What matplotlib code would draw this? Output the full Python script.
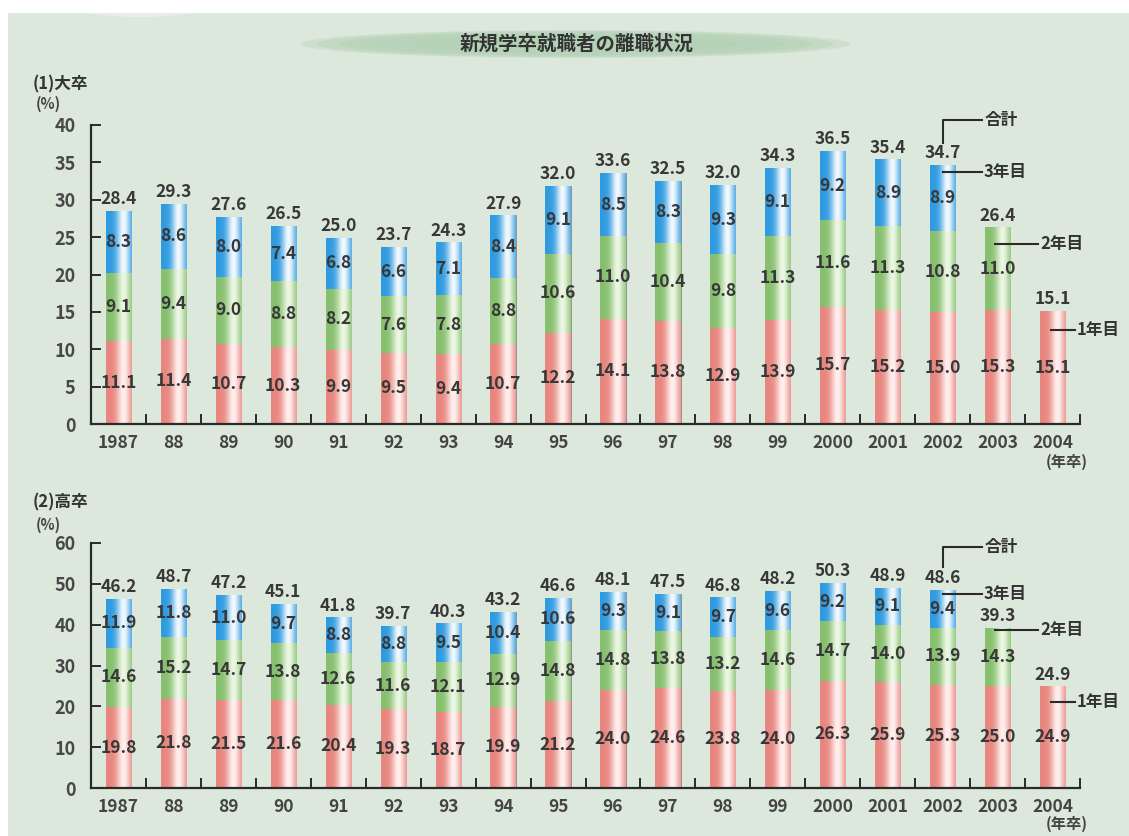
import numpy as np
import matplotlib
matplotlib.use("Agg")
import matplotlib.pyplot as plt
from matplotlib.patches import Ellipse, Rectangle
from matplotlib.colors import to_rgb
import matplotlib.transforms as mtransforms

plt.rcParams['font.family'] = ['Noto Sans CJK JP', 'DejaVu Sans']

# ---- data ----
years = ['1987', '88', '89', '90', '91', '92', '93', '94', '95', '96', '97',
         '98', '99', '2000', '2001', '2002', '2003', '2004']

univ_y1 = [11.1, 11.4, 10.7, 10.3, 9.9, 9.5, 9.4, 10.7, 12.2, 14.1, 13.8, 12.9,
           13.9, 15.7, 15.2, 15.0, 15.3, 15.1]
univ_y2 = [9.1, 9.4, 9.0, 8.8, 8.2, 7.6, 7.8, 8.8, 10.6, 11.0, 10.4, 9.8,
           11.3, 11.6, 11.3, 10.8, 11.0, None]
univ_y3 = [8.3, 8.6, 8.0, 7.4, 6.8, 6.6, 7.1, 8.4, 9.1, 8.5, 8.3, 9.3,
           9.1, 9.2, 8.9, 8.9, None, None]
univ_total = [28.4, 29.3, 27.6, 26.5, 25.0, 23.7, 24.3, 27.9, 32.0, 33.6, 32.5,
              32.0, 34.3, 36.5, 35.4, 34.7, 26.4, 15.1]

high_y1 = [19.8, 21.8, 21.5, 21.6, 20.4, 19.3, 18.7, 19.9, 21.2, 24.0, 24.6, 23.8,
           24.0, 26.3, 25.9, 25.3, 25.0, 24.9]
high_y2 = [14.6, 15.2, 14.7, 13.8, 12.6, 11.6, 12.1, 12.9, 14.8, 14.8, 13.8, 13.2,
           14.6, 14.7, 14.0, 13.9, 14.3, None]
high_y3 = [11.9, 11.8, 11.0, 9.7, 8.8, 8.8, 9.5, 10.4, 10.6, 9.3, 9.1, 9.7,
           9.6, 9.2, 9.1, 9.4, None, None]
high_total = [46.2, 48.7, 47.2, 45.1, 41.8, 39.7, 40.3, 43.2, 46.6, 48.1, 47.5,
              46.8, 48.2, 50.3, 48.9, 48.6, 39.3, 24.9]

series_names = ['1年目', '2年目', '3年目']

# ---- style ----
BG = '#dde8dc'
TXT = '#383838'
SEG_COLORS = [('#e8857e', '#fff0ee'),   # 1st year: salmon
              ('#86bf6e', '#ecf7e4'),   # 2nd year: green
              ('#2e9ae0', '#f2f9fe')]   # 3rd year: blue
NUM_SIZE = 12.5

W, H = 1129, 836
fig = plt.figure(figsize=(W / 100, H / 100), dpi=100)
fig.patch.set_facecolor('white')

# panel background
fig.add_artist(Rectangle((8 / W, 0), 1 - 8 / W, 1 - 13 / H, transform=fig.transFigure,
                         facecolor=BG, edgecolor='none', zorder=-10))
fig.add_artist(Ellipse((140 / W, 1 - 11 / H), 110 / W, 12 / H, transform=fig.transFigure,
                       facecolor='white', edgecolor='none', alpha=0.3, zorder=-9))

# title with a soft green ellipse behind it
for k, a in zip([1.0, 0.94, 0.86, 0.76, 0.6], [0.35, 0.4, 0.45, 0.45, 0.4]):
    fig.add_artist(Ellipse((575 / W, 1 - 44 / H), 550 / W * k, 28 / H * k,
                           transform=fig.transFigure, facecolor='#b3d1b6',
                           edgecolor='none', alpha=a, zorder=-8))
fig.text(577 / W, 1 - 44 / H, '新規学卒就職者の離職状況', ha='center', va='center',
         fontsize=14, fontweight='bold', color='#333333')


def gradient_image(base, light, n=64):
    t = np.linspace(0, 1, n)
    f = np.exp(-((t - 0.68) / 0.26) ** 2)
    b = np.array(to_rgb(base))
    l = np.array(to_rgb(light))
    img = b[None, :] * (1 - f[:, None]) + l[None, :] * f[:, None]
    return img[None, :, :]


def draw_panel(ax, segs, totals, ymax, ystep, notes):
    x = np.arange(len(years))
    ax.set_facecolor('none')
    bottom = np.zeros(len(years))
    width = 0.46
    tops = np.zeros(len(years))
    for s, vals in enumerate(segs):
        v = np.array([np.nan if a is None else a for a in vals])
        mask = ~np.isnan(v)
        bars = ax.bar(x[mask], v[mask], width, bottom=bottom[mask],
                      color=SEG_COLORS[s][0], edgecolor='#8d8d8d', linewidth=0.6,
                      zorder=2, label=series_names[s])
        img = gradient_image(*SEG_COLORS[s])
        for patch in bars.patches:
            x0, y0 = patch.get_x(), patch.get_y()
            im = ax.imshow(img, extent=[x0, x0 + patch.get_width(), y0, y0 + patch.get_height()],
                           aspect='auto', interpolation='bilinear', zorder=2.5)
            im.set_clip_path(patch)
        for xi, vi, bi in zip(x[mask], v[mask], bottom[mask]):
            ax.text(xi, bi + vi / 2, f'{vi:.1f}', ha='center', va='center',
                    fontsize=NUM_SIZE, fontweight='bold', color=TXT, zorder=4)
        bottom[mask] += v[mask]
        tops[mask] = bottom[mask]
    for xi, top, tot in zip(x, tops, totals):
        ax.annotate(f'{tot:.1f}', (xi, top), xytext=(0, 2), textcoords='offset points',
                    ha='center', va='bottom', fontsize=NUM_SIZE, fontweight='bold',
                    color=TXT, zorder=4)

    ax.set_xlim(-0.5, len(years) - 0.5)
    ax.set_ylim(0, ymax)
    for sp in ['top', 'right']:
        ax.spines[sp].set_visible(False)
    for sp in ['left', 'bottom']:
        ax.spines[sp].set_color('#2a2a2a')
        ax.spines[sp].set_linewidth(1.6)
    ax.set_yticks(np.arange(0, ymax + 0.1, ystep))
    ax.tick_params(axis='y', direction='in', length=7, width=1.4, color='#2a2a2a',
                   labelsize=13, labelcolor='#484848', pad=11)
    ax.set_xticks(np.arange(0.5, len(years)), labels=[''] * len(years))
    ax.set_xticks(x, labels=years, minor=True)
    ax.tick_params(axis='x', which='major', direction='in', length=7, width=1.4,
                   color='#2a2a2a')
    ax.tick_params(axis='x', which='minor', length=0, labelsize=12.5,
                   labelcolor='#444444', pad=7)
    for lab in ax.get_xticklabels(minor=True) + ax.get_yticklabels():
        lab.set_fontweight('bold')

    # series callouts on the right
    ln = dict(color='#2a2a2a', lw=1.5, clip_on=False, zorder=5)
    tx = dict(ha='left', va='center', fontsize=12, fontweight='bold',
              color='#333333', clip_on=False)
    (tot_lo, tot_hi), y3, y2, y1 = notes
    ax.plot([15, 15, 15.72], [tot_lo, tot_hi, tot_hi], **ln)
    ax.text(15.77, tot_hi, '合計', **tx)
    ax.plot([15, 15.72], [y3, y3], **ln)
    ax.text(15.75, y3, '3年目', **tx)
    ax.plot([15.95, 16.74], [y2, y2], **ln)
    ax.text(16.77, y2, '2年目', **tx)
    ax.plot([16.97, 17.4], [y1, y1], **ln)
    ax.text(17.43, y1, '1年目', **tx)


ax1 = fig.add_axes([91 / W, 1 - 424 / H, 989 / W, 299 / H])
draw_panel(ax1, [univ_y1, univ_y2, univ_y3], univ_total, 40, 5,
           ((37.6, 40.7), 33.7, 24.1, 12.6))
ax2 = fig.add_axes([91 / W, 1 - 788 / H, 989 / W, 245 / H])
draw_panel(ax2, [high_y1, high_y2, high_y3], high_total, 60, 10,
           ((54.1, 59.0), 47.5, 38.7, 21.1))

for ax, yoff in [(ax1, -38 / 299), (ax2, -36 / 245)]:
    tr = mtransforms.blended_transform_factory(ax.transData, ax.transAxes)
    ax.text(17.25, yoff, '(年卒)', transform=tr, ha='center', va='center',
            fontsize=11, fontweight='bold', color='#444444', clip_on=False)

fig.text(33 / W, 1 - 84 / H, '(1)大卒', ha='left', va='center', fontsize=12,
         fontweight='bold', color='#333333')
fig.text(36 / W, 1 - 104 / H, '(%)', ha='left', va='center', fontsize=10.5,
         fontweight='bold', color='#444444')
fig.text(33 / W, 1 - 502 / H, '(2)高卒', ha='left', va='center', fontsize=12,
         fontweight='bold', color='#333333')
fig.text(36 / W, 1 - 525 / H, '(%)', ha='left', va='center', fontsize=10.5,
         fontweight='bold', color='#444444')

fig.savefig('out.png', dpi=100, facecolor=fig.get_facecolor())
